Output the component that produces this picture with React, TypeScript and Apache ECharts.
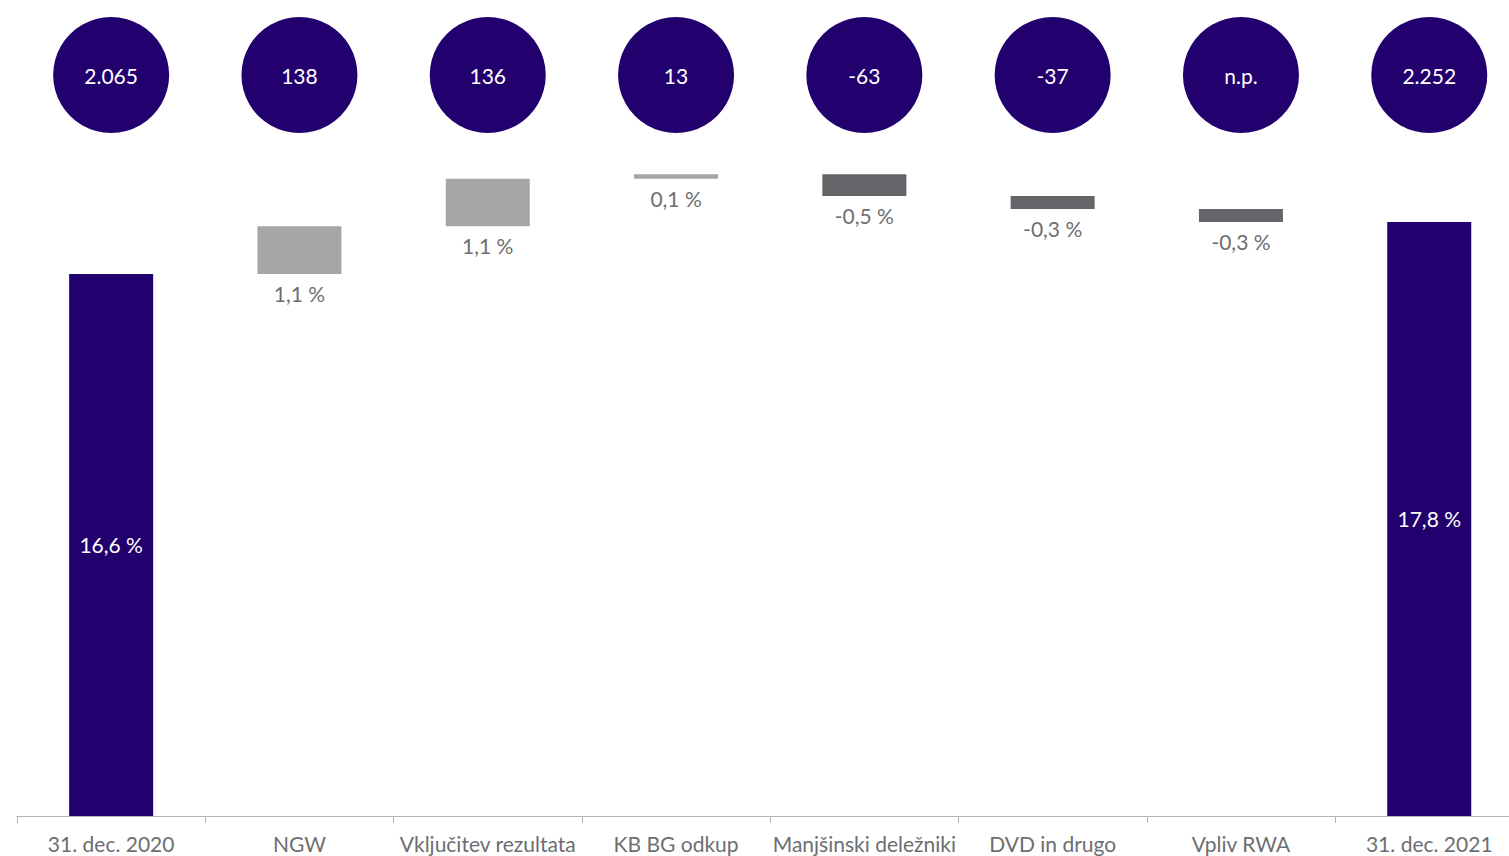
import React, { useEffect, useRef } from "react";
import * as echarts from "echarts";

const categories = [
  "31. dec. 2020",
  "NGW",
  "Vključitev rezultata",
  "KB BG odkup",
  "Manjšinski deležniki",
  "DVD in drugo",
  "Vpliv RWA",
  "31. dec. 2021",
];
const startRatio = 16.6;
const endRatio = 17.8;
const deltas = [1.1, 1.1, 0.1, -0.5, -0.3, -0.3];
const circleLabels = ["2.065", "138", "136", "13", "-63", "-37", "n.p.", "2.252"];

const PURPLE = "#22006e";
const GRAY_POS = "#a6a6a8";
const GRAY_NEG = "#636569";
const TEXT = "#6d6e71";
const FONT = "Lato";

const fmt = (v: number) => v.toFixed(1).replace(".", ",") + " %";

export default function App() {
  const ref = useRef<HTMLDivElement>(null);
  useEffect(() => {
    if (!ref.current) return;
    const chart = echarts.init(ref.current, undefined, { renderer: "svg" });

    const baseData: any[] = [0];
    const visData: any[] = [
      {
        value: startRatio,
        itemStyle: { color: PURPLE },
        label: { show: true, position: "inside", color: "#fff", formatter: fmt(startRatio) },
      },
    ];
    let running = startRatio;
    deltas.forEach((d) => {
      let base: number;
      if (d >= 0) {
        base = running;
        running += d;
      } else {
        running += d;
        base = running;
      }
      baseData.push(+base.toFixed(4));
      visData.push({
        value: Math.abs(d),
        itemStyle: { color: d >= 0 ? GRAY_POS : GRAY_NEG },
        label: { show: true, position: "bottom", distance: 9, color: TEXT, formatter: fmt(d) },
      });
    });
    baseData.push(0);
    visData.push({
      value: endRatio,
      itemStyle: { color: PURPLE },
      label: { show: true, position: "inside", color: "#fff", formatter: fmt(endRatio) },
    });

    const gridLeft = 17;
    const gridWidth = 188.3 * categories.length;

    chart.setOption({
      animation: false,
      textStyle: { fontFamily: FONT },
      grid: [
        { left: gridLeft, width: gridWidth, top: 148.3, bottom: 40 },
        { left: gridLeft, width: gridWidth, top: 17, height: 116 },
      ],
      xAxis: [
        {
          type: "category",
          gridIndex: 0,
          data: categories,
          axisLine: { lineStyle: { color: "#b3b3b3", width: 1 } },
          axisTick: { show: true, length: 7, lineStyle: { color: "#b3b3b3" } },
          axisLabel: { color: TEXT, fontSize: 21, margin: 17, fontFamily: FONT, interval: 0 },
        },
        {
          type: "category",
          gridIndex: 1,
          data: categories,
          show: false,
        },
      ],
      yAxis: [
        { type: "value", gridIndex: 0, min: 4.09, max: 19.5, show: false },
        { type: "value", gridIndex: 1, min: 0, max: 1, show: false },
      ],
      series: [
        {
          type: "bar",
          xAxisIndex: 0,
          yAxisIndex: 0,
          stack: "w",
          barWidth: 84,
          itemStyle: { color: "transparent" },
          emphasis: { disabled: true },
          data: baseData,
          silent: true,
        },
        {
          type: "bar",
          xAxisIndex: 0,
          yAxisIndex: 0,
          stack: "w",
          barWidth: 84,
          label: { fontSize: 21, fontFamily: FONT },
          data: visData,
        },
        {
          type: "scatter",
          xAxisIndex: 1,
          yAxisIndex: 1,
          symbol: "circle",
          symbolSize: 116,
          itemStyle: { color: PURPLE, opacity: 1 },
          label: {
            show: true,
            position: "inside",
            color: "#fff",
            fontSize: 21,
            fontFamily: FONT,
            formatter: (p: any) => circleLabels[p.dataIndex],
          },
          data: categories.map((c) => [c, 0.5]),
        },
      ],
    });
    return () => chart.dispose();
  }, []);

  return (
    <div style={{ position: "fixed", left: 0, top: 0, width: 1509, height: 856, overflow: "hidden", background: "#fff" }}>
      <div ref={ref} style={{ width: 1530, height: 856 }} />
    </div>
  );
}
